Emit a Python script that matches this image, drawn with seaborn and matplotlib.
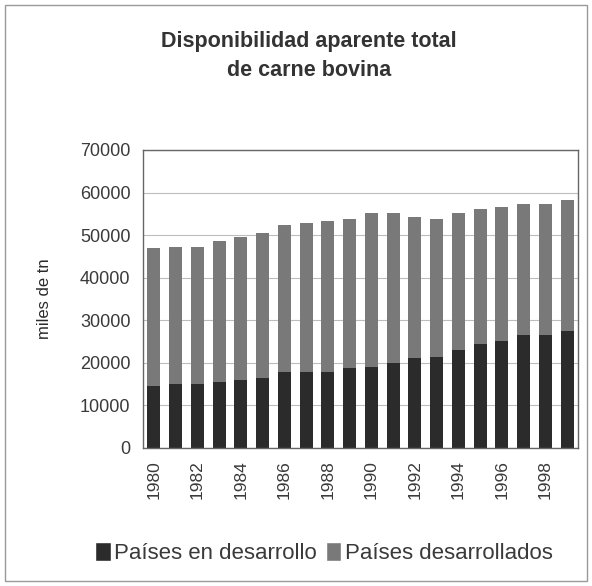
import pandas as pd
import numpy as np
import matplotlib.pyplot as plt
import seaborn as sns
from matplotlib.patches import Patch

years = list(range(1980, 2000))
en_desarrollo = [14550, 14950, 14950, 15420, 15960, 16360, 17770, 17770, 17770, 18850,
                 19080, 20020, 21050, 21440, 23000, 24330, 25190, 26530, 26530, 27460]
total = [46900, 47250, 47250, 48660, 49600, 50540, 52420, 52890, 53330, 53800,
         55240, 55240, 54230, 53760, 55160, 56030, 56500, 57430, 57430, 58220]

df = pd.DataFrame({'Año': [str(y) for y in years],
                   'En desarrollo': en_desarrollo,
                   'Total': total})

sns.set_style('white')
plt.rcParams['font.family'] = ['Liberation Sans', 'DejaVu Sans']

fig = plt.figure(figsize=(5.92, 5.86), dpi=100)
ax = fig.add_axes([143 / 592, 1 - 448 / 586, 435 / 592, 298 / 586])

dark = '#2b2b2b'
light = '#797979'
txt = '#3a3a3a'

# stacked bars: total first, dark part drawn over it
sns.barplot(data=df, x='Año', y='Total', color=light, width=0.6, saturation=1,
            linewidth=0, ax=ax)
sns.barplot(data=df, x='Año', y='En desarrollo', color=dark, width=0.6, saturation=1,
            linewidth=0, ax=ax)

ax.set_ylim(0, 70000)
ax.set_xlim(-0.5, len(years) - 0.5)
ax.set_yticks(np.arange(0, 70001, 10000))
ax.yaxis.grid(True, color='#bdbdbd', linewidth=0.8)
ax.set_axisbelow(True)

ax.set_xticks(range(len(years)))
ax.set_xticklabels([str(y) if y % 2 == 0 else '' for y in years], rotation=90)
ax.set_xticks(np.arange(-0.5, len(years), 1), minor=True)
ax.tick_params(axis='x', which='major', length=0, pad=9, labelsize=12.5, labelcolor=txt)
ax.tick_params(axis='x', which='minor', length=4, width=0.8, color='#555555', direction='out')
ax.tick_params(axis='y', length=5, width=0.8, color='#555555', direction='out',
               labelsize=13, labelcolor=txt, pad=4)

for s in ax.spines.values():
    s.set_color('#666666')
    s.set_linewidth(1)

ax.set_xlabel('')
ax.set_ylabel('miles de tn', fontsize=12, color='#2a2a2a')
ax.yaxis.set_label_coords((52 - 143) / 435, 0.5)

fig.text(309 / 592, 1 - 56 / 586, 'Disponibilidad aparente total\nde carne bovina',
         ha='center', va='center', fontsize=15.5, fontweight='bold', color='#333333',
         linespacing=1.45)

handles = [Patch(facecolor=dark, label='Países en desarrollo'),
           Patch(facecolor=light, label='Países desarrollados')]
fig.legend(handles=handles, loc='center', bbox_to_anchor=(324 / 592, 1 - 553 / 586), ncol=2,
           frameon=False, fontsize=16, handlelength=0.7, handleheight=0.9,
           handletextpad=0.15, columnspacing=0.4, labelcolor=txt)

# outer frame
fig.patches.append(plt.Rectangle((0.008, 0.008), 0.984, 0.984, transform=fig.transFigure,
                                 fill=False, edgecolor='#999999', linewidth=1))

fig.savefig('out.png', dpi=100)
